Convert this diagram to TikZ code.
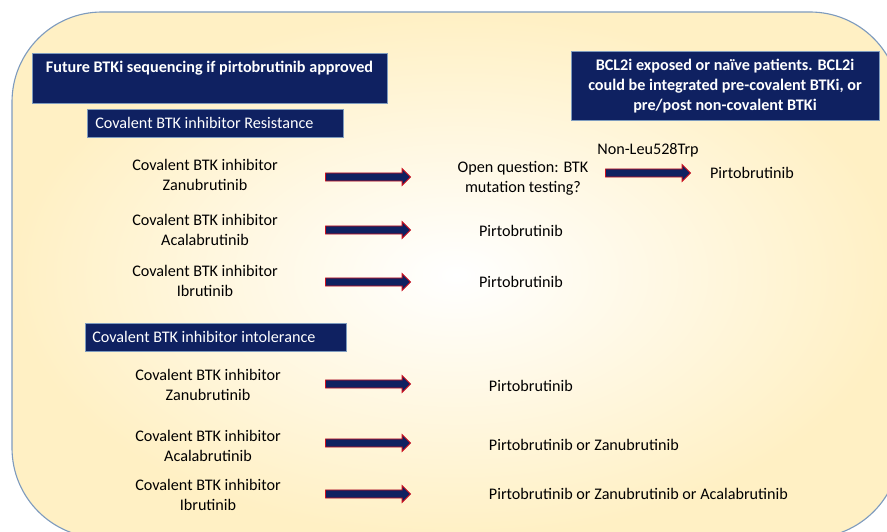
\documentclass[tikz,border=0pt]{standalone}
\usepackage{fontspec}
\setmainfont{Carlito}
\usepackage{xcolor}
\usepackage{tikz}
\usetikzlibrary{shapes.arrows,positioning}

\definecolor{navy}{HTML}{0F2161}
\definecolor{cream}{HTML}{FFF0C4}
\definecolor{rim}{HTML}{7E9BBE}
\definecolor{arrowred}{HTML}{D0101E}

\begin{document}
\begin{tikzpicture}[x=0.025cm, y=-0.025cm,
    hdrbox/.style={draw=rim, fill=navy, inner sep=0pt},
    hdrtxt/.style={text=white, font=\fontsize{11.5}{14}\selectfont\bfseries, align=center},
    subbox/.style={draw=rim, fill=navy, text=white, font=\fontsize{11.5}{14}\selectfont, anchor=west, minimum height=0.7cm, inner ysep=0pt, align=flush left},
    drug/.style={font=\fontsize{11.5}{14}\selectfont, align=center},
    blockarrow/.style={single arrow, draw=arrowred, fill=navy, line width=0.6pt, inner xsep=0pt, inner ysep=0.09cm, minimum height=2.125cm, single arrow head extend=0.11cm}
]
\useasboundingbox (0,0) rectangle (887,532);
\clip (0,0) rectangle (887,532);

% background panel
\shade[draw=rim, line width=0.8pt, rounded corners=2.25cm, inner color=white, outer color=cream] (12,12) rectangle (900,538);

% headers
\node[hdrbox, minimum width=8.875cm, minimum height=1.25cm] (hdr) at (209.5,78) {};
\node[hdrtxt] (hdrt) at (209.5,68) {Future BTKi sequencing if pirtobrutinib approved};
\node[hdrbox, hdrtxt, minimum width=7.7cm, minimum height=1.725cm] (bcl) at (725,86) {BCL2i exposed or naïve patients. BCL2i\\could be integrated pre-covalent BTKi, or\\pre/post non-covalent BTKi};

\node[subbox, text width=6.0cm, minimum width=6.4cm, inner xsep=0.2cm] (res) at (87,123) {Covalent BTK inhibitor Resistance};
\node[subbox, text width=6.175cm, minimum width=6.525cm, inner xsep=0.175cm] (intol) at (85,337) {Covalent BTK inhibitor intolerance};

% resistance
\node[drug] (rz) at (205,175) {Covalent BTK inhibitor\\Zanubrutinib};
\node[drug] (ra) at (205,230) {Covalent BTK inhibitor\\Acalabrutinib};
\node[drug] (ri) at (205,281) {Covalent BTK inhibitor\\Ibrutinib};

\node[blockarrow] (arz) at (366,177) {};
\node[blockarrow] (ara) at (366,230) {};
\node[blockarrow] (ari) at (366,282) {};

\node[drug] (oq) at (523,178) {Open question: BTK\\mutation testing?};
\node[drug] (pa) at (521,231) {Pirtobrutinib};
\node[drug] (pi) at (521,282) {Pirtobrutinib};

\node[drug] (nonleu) at (648,150) {Non-Leu528Trp};
\node[blockarrow] (aoq) at (646,173) {};
\node[drug] (poq) at (752,173) {Pirtobrutinib};

% intolerance
\node[drug] (iz) at (208,385) {Covalent BTK inhibitor\\Zanubrutinib};
\node[drug] (ia) at (208,446) {Covalent BTK inhibitor\\Acalabrutinib};
\node[drug] (ii) at (208,495) {Covalent BTK inhibitor\\Ibrutinib};

\node[blockarrow] (aiz) at (366,384) {};
\node[blockarrow] (aia) at (366,443) {};
\node[blockarrow] (aii) at (366,494) {};

\node[drug, anchor=west] (piz) at (484,386) {Pirtobrutinib};
\node[drug, anchor=west] (pia) at (484,445) {Pirtobrutinib or Zanubrutinib};
\node[drug, anchor=west] (pii) at (484,494) {Pirtobrutinib or Zanubrutinib or Acalabrutinib};
\end{tikzpicture}
\end{document}
